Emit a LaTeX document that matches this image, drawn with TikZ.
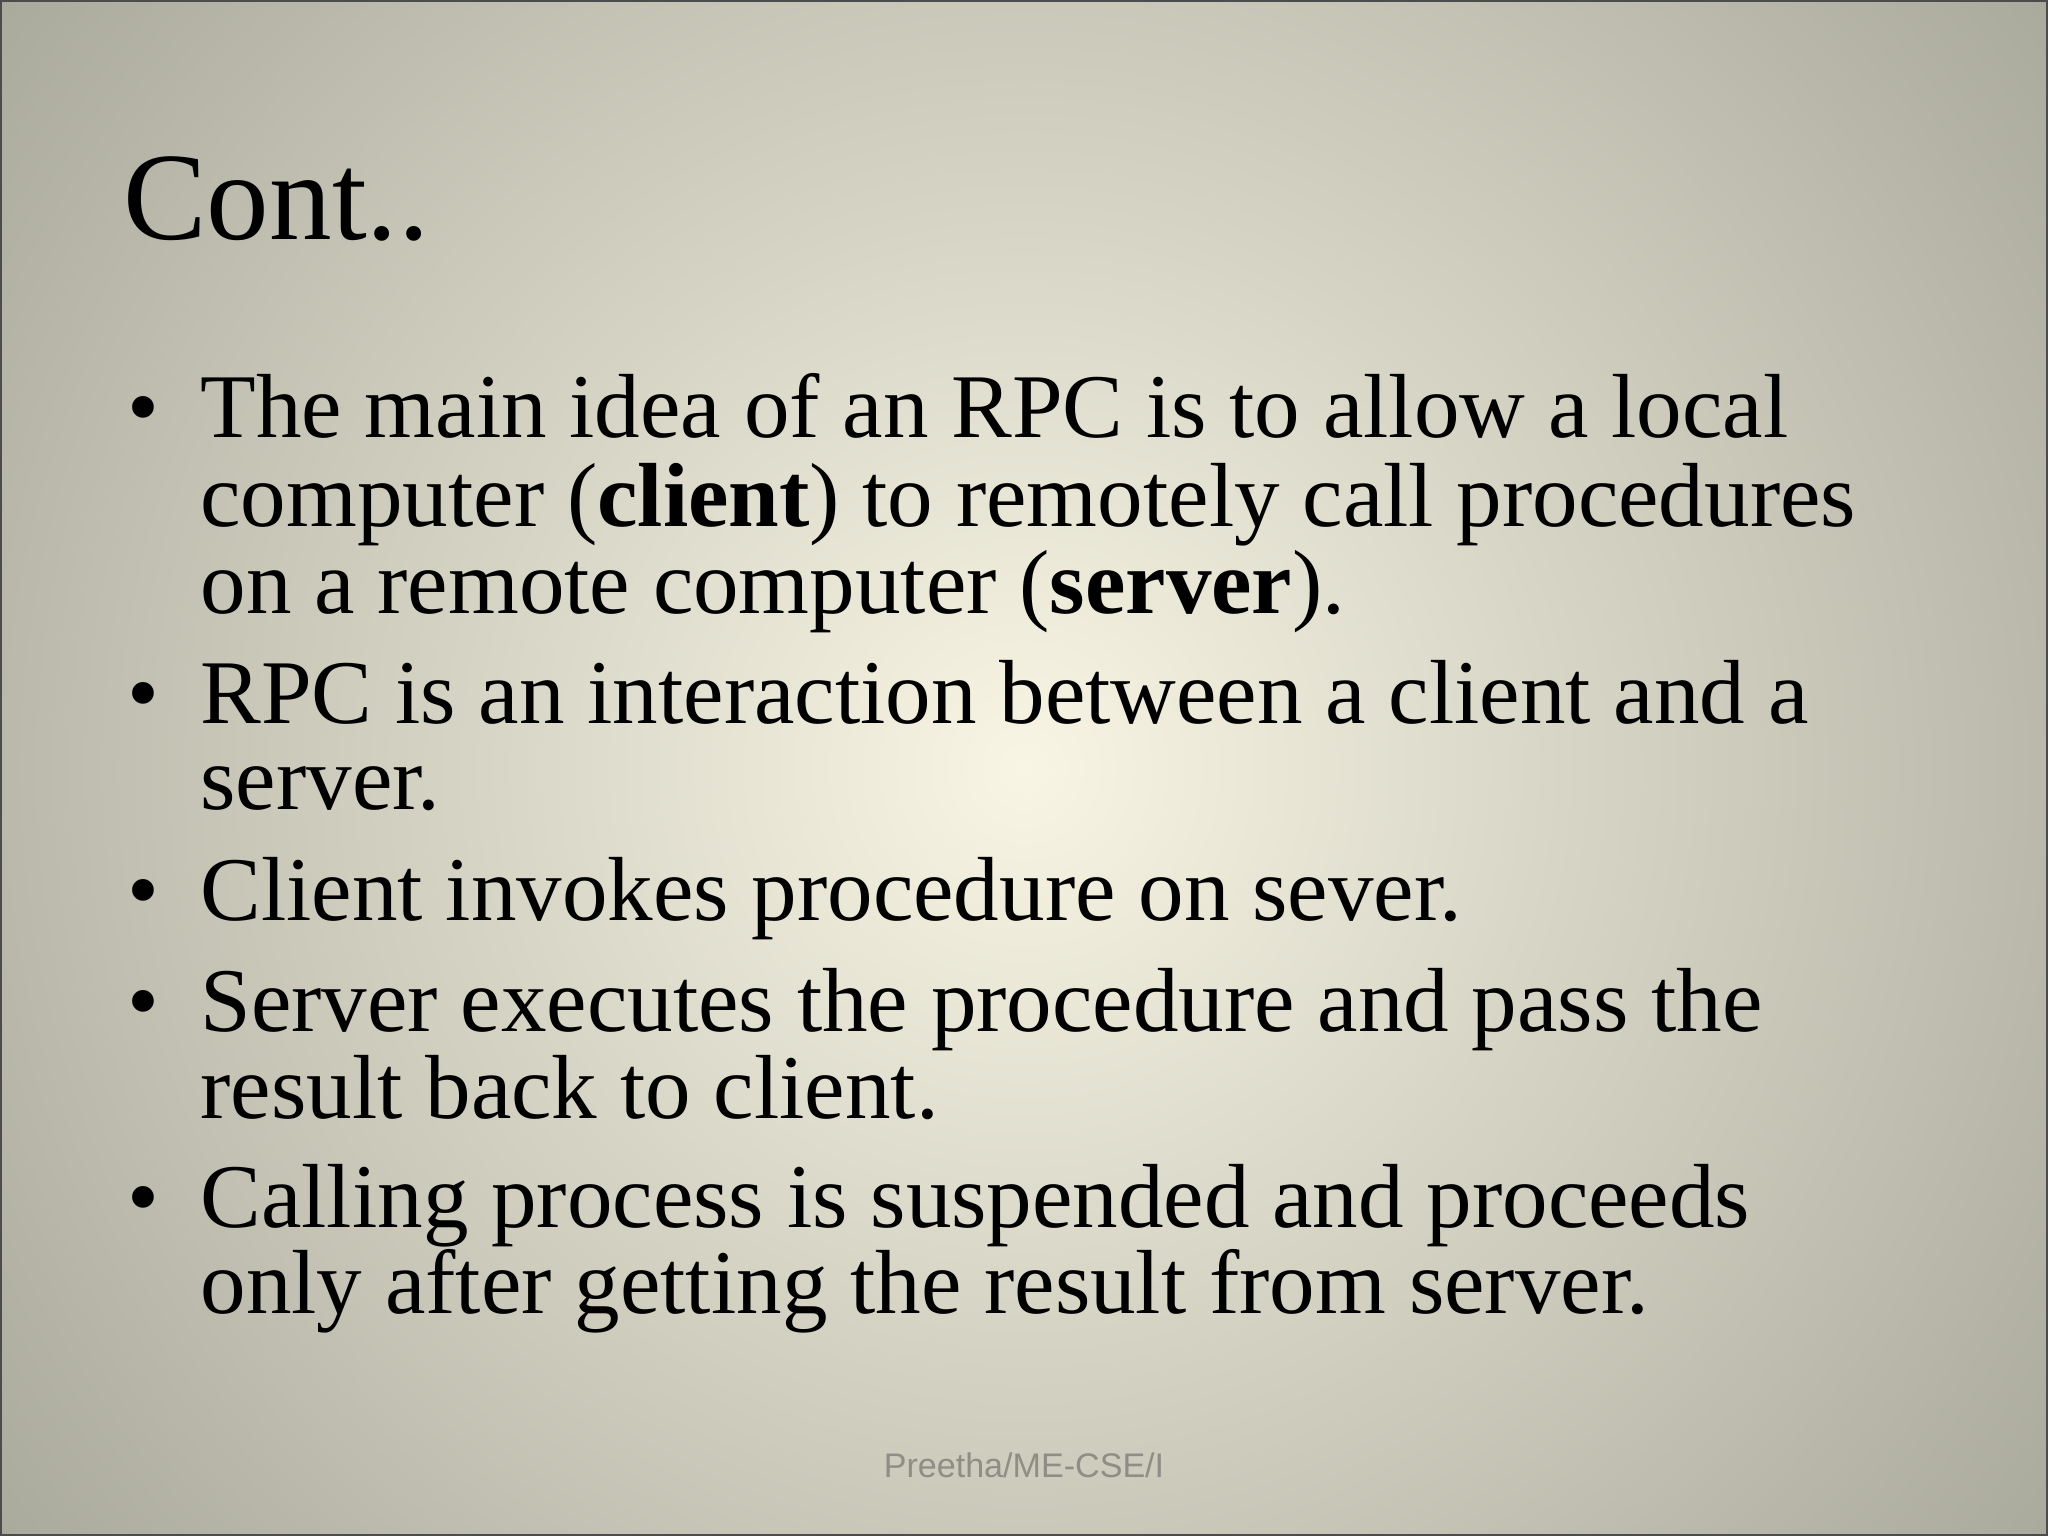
\documentclass[tikz,border=0pt]{standalone}
\usepackage{fontspec}
\setmainfont{Liberation Serif}
\newfontfamily\footfont{Liberation Sans}
\definecolor{bgin}{HTML}{F8F5E4}
\definecolor{bgout}{HTML}{A8A89B}
\definecolor{footc}{HTML}{8E8E86}
\begin{document}
\begin{tikzpicture}[x=0.013061cm,y=-0.013061cm,
  body/.style={anchor=base west,inner sep=0pt,font=\fontsize{25.9}{25}\selectfont},
  bul/.style={anchor=base west,inner sep=0pt,font=\fontsize{25.9}{25}\selectfont}]
\useasboundingbox (0,0) rectangle (1568,1176);
\begin{scope}
\clip (0,0) rectangle (1568,1176);
\shade[inner color=bgin,outer color=bgout] (784-1000,588-1000) rectangle (784+1000,588+1000);
\end{scope}
\draw[line width=1.2pt,black!70] (0,0) rectangle (1568,1176);
\node[anchor=base west,inner sep=0pt,font=\fontsize{35.6}{38}\selectfont] (title) at (94,183) {Cont..};
\foreach \y in {335,554,705,790,940}{\node[bul] at (97,\y) {\textbullet};}
\node[body] (l1) at (153,335) {The main idea of an RPC is to allow a local};
\node[body] (l2) at (153,403) {computer (\textbf{client}) to remotely call procedures};
\node[body] (l3) at (153,470) {on a remote computer (\textbf{server}).};
\node[body] (l4) at (153,554) {RPC is an interaction between a client and a};
\node[body] (l5) at (153,620) {server.};
\node[body] (l6) at (153,705) {Client invokes procedure on sever.};
\node[body] (l7) at (153,790) {Server executes the procedure and pass the};
\node[body] (l8) at (153,856) {result back to client.};
\node[body] (l9) at (153,940) {Calling process is suspended and proceeds};
\node[body] (l10) at (153,1006) {only after getting the result from server.};
\node[anchor=base,inner sep=0pt,text=footc,font=\footfont\fontsize{9.7}{11}\selectfont] (foot) at (784,1131) {Preetha/ME-CSE/I};
\end{tikzpicture}
\end{document}
